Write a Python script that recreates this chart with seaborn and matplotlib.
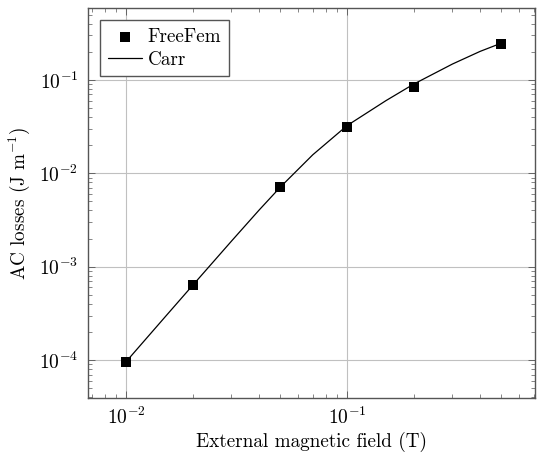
import matplotlib
matplotlib.use("Agg")
import matplotlib.pyplot as plt
import seaborn as sns
import pandas as pd
from matplotlib.ticker import LogLocator, NullFormatter

# Data
freefem_field = [0.01, 0.02, 0.05, 0.1, 0.2, 0.5]
freefem_losses = [9.6e-5, 6.3e-4, 7.15e-3, 3.16e-2, 8.5e-2, 0.242]

carr_field = [0.01, 0.015, 0.02, 0.03, 0.04, 0.05, 0.07, 0.1, 0.15, 0.2, 0.3, 0.4, 0.5]
carr_losses = [9.6e-5, 2.89e-4, 6.3e-4, 1.88e-3, 4.04e-3, 7.15e-3, 1.58e-2,
               3.24e-2, 6.0e-2, 9.0e-2, 1.48e-1, 2.02e-1, 2.48e-1]

xlabel = "External magnetic field (T)"
ylabel = "AC losses (J m$^{-1}$)"

sns.set_style("white")
plt.rcParams["font.family"] = ["serif"]
plt.rcParams["font.serif"] = ["cmr10", "DejaVu Serif"]
plt.rcParams["mathtext.fontset"] = "cm"
plt.rcParams["axes.formatter.use_mathtext"] = True
plt.rcParams["text.color"] = "black"
plt.rcParams["axes.labelcolor"] = "black"

fig = plt.figure(figsize=(5.37, 4.54), dpi=100)
ax = fig.add_axes([0.1639, 0.1233, 0.9963 - 0.1639, 0.9824 - 0.1233])

df_ff = pd.DataFrame({"x": freefem_field, "y": freefem_losses})
df_carr = pd.DataFrame({"x": carr_field, "y": carr_losses})

sns.lineplot(data=df_carr, x="x", y="y", ax=ax, color="black", linewidth=0.9,
             label="Carr", zorder=3, sort=True, estimator=None)
sns.scatterplot(data=df_ff, x="x", y="y", ax=ax, color="black", marker="s",
                s=42, edgecolor="black", linewidth=0, label="FreeFem", zorder=4)

ax.set_xscale("log")
ax.set_yscale("log")
ax.set_xlim(0.00673, 0.709)
ax.set_ylim(3.93e-5, 0.589)

ax.xaxis.set_major_locator(LogLocator(base=10, numticks=10))
ax.yaxis.set_major_locator(LogLocator(base=10, numticks=10))
ax.xaxis.set_minor_locator(LogLocator(base=10, subs=range(2, 10), numticks=20))
ax.yaxis.set_minor_locator(LogLocator(base=10, subs=range(2, 10), numticks=20))
ax.xaxis.set_minor_formatter(NullFormatter())
ax.yaxis.set_minor_formatter(NullFormatter())

ax.grid(True, which="major", color="#c0c0c0", linewidth=0.8)
ax.grid(False, which="minor")
ax.set_axisbelow(True)

for sp in ax.spines.values():
    sp.set_color("#555555")
    sp.set_linewidth(1.0)

ax.tick_params(which="both", direction="in", top=True, right=True,
               bottom=True, left=True, color="#555555", labelcolor="black")
ax.tick_params(axis="x", which="major", length=5, width=0.6, labelsize=14, pad=6)
ax.tick_params(axis="y", which="major", length=5, width=0.6, labelsize=14, pad=7)
ax.tick_params(which="minor", length=3, width=0.5)

ax.set_xlabel(xlabel, fontsize=13.8, labelpad=3)
ax.set_ylabel(ylabel, fontsize=13.8, labelpad=5)

handles, labels = ax.get_legend_handles_labels()
order = [labels.index("FreeFem"), labels.index("Carr")]
leg = ax.legend([handles[i] for i in order], [labels[i] for i in order],
                loc="upper left", fontsize=13.8, frameon=True, fancybox=False,
                framealpha=1, edgecolor="#555555", borderpad=0.4,
                handlelength=1.75, handletextpad=0.3, labelspacing=0.25,
                borderaxespad=0.65)
leg.get_frame().set_linewidth(1.0)

fig.savefig("out.png", dpi=100)
